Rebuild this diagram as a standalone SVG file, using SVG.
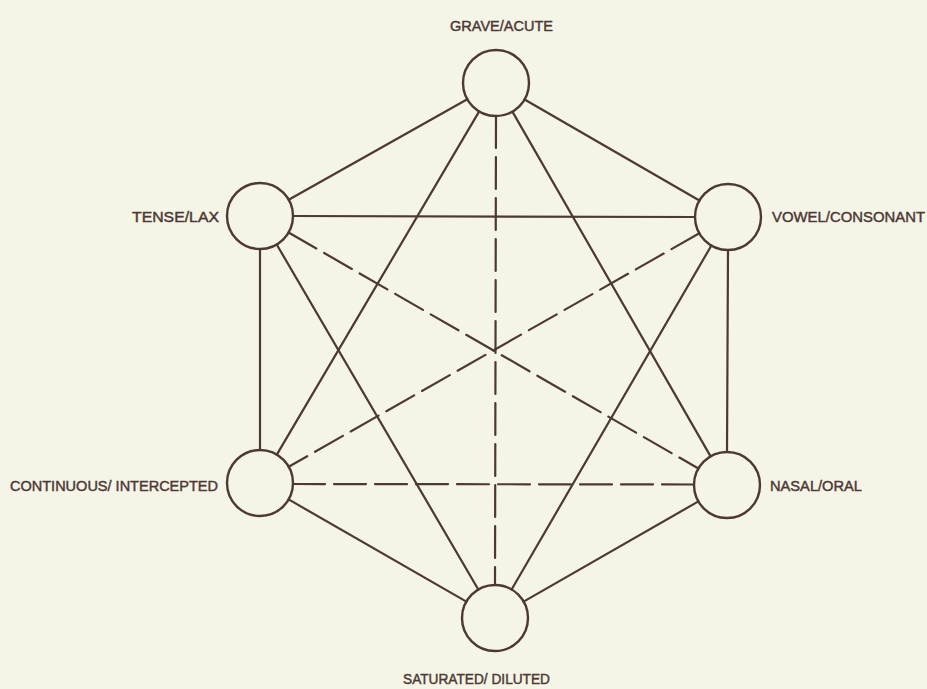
<svg xmlns="http://www.w3.org/2000/svg" width="927" height="689" viewBox="0 0 927 689">
<style>
.bg{fill:#f4f4e7}
.n{fill:none;stroke:#4d3834;stroke-width:2.4}
.e{stroke:#4d3834;stroke-width:2.2;fill:none;stroke-linecap:round}
.d{stroke-dasharray:32 9}
.t{font-family:"Liberation Sans",Arial,sans-serif;font-size:15px;fill:#4d3834;stroke:#4d3834;stroke-width:0.45}
</style>
<rect class="bg" x="0" y="0" width="927" height="689"/>
<g id="connectors">
<line class="e" x1="467.3" y1="99.2" x2="288.7" y2="199.8"/>
<line class="e" x1="524.6" y1="99.5" x2="699.4" y2="200.5"/>
<line class="e" x1="260" y1="249" x2="260" y2="450"/>
<line class="e" x1="728" y1="250" x2="727" y2="452"/>
<line class="e" x1="288.6" y1="499.4" x2="466.4" y2="601.6"/>
<line class="e" x1="698.4" y1="501.4" x2="523.6" y2="601.6"/>
<line class="e" x1="293" y1="216" x2="695" y2="217"/>
<line class="e" x1="479.2" y1="111.4" x2="276.8" y2="454.6"/>
<line class="e" x1="512.4" y1="111.6" x2="710.6" y2="456.4"/>
<line class="e" x1="276.7" y1="244.5" x2="478.3" y2="589.5"/>
<line class="e" x1="711.4" y1="245.5" x2="511.6" y2="589.5"/>
<line class="e d" x1="496" y1="116" x2="495" y2="585"/>
<line class="e d" x1="288.6" y1="232.5" x2="698.4" y2="468.5"/>
<line class="e d" x1="699.3" y1="233.3" x2="288.7" y2="466.7"/>
<line class="e d" x1="293" y1="484" x2="694" y2="484.5"/>
</g>
<g id="grave-acute"><circle class="n" cx="496" cy="83" r="33"/><text class="t" x="450" y="31" textLength="103" lengthAdjust="spacingAndGlyphs">GRAVE/ACUTE</text></g>
<g id="tense-lax"><circle class="n" cx="260" cy="216" r="33"/><text class="t" x="132" y="222" textLength="87" lengthAdjust="spacingAndGlyphs">TENSE/LAX</text></g>
<g id="vowel-consonant"><circle class="n" cx="728" cy="217" r="33"/><text class="t" x="772" y="222" textLength="153" lengthAdjust="spacingAndGlyphs">VOWEL/CONSONANT</text></g>
<g id="continuous-intercepted"><circle class="n" cx="260" cy="483" r="33"/><text class="t" x="10" y="491" textLength="208" lengthAdjust="spacingAndGlyphs">CONTINUOUS/ INTERCEPTED</text></g>
<g id="nasal-oral"><circle class="n" cx="727" cy="485" r="33"/><text class="t" x="770" y="491" textLength="92" lengthAdjust="spacingAndGlyphs">NASAL/ORAL</text></g>
<g id="saturated-diluted"><circle class="n" cx="495" cy="618" r="33"/><text class="t" x="403" y="684" textLength="147" lengthAdjust="spacingAndGlyphs">SATURATED/ DILUTED</text></g>
</svg>
